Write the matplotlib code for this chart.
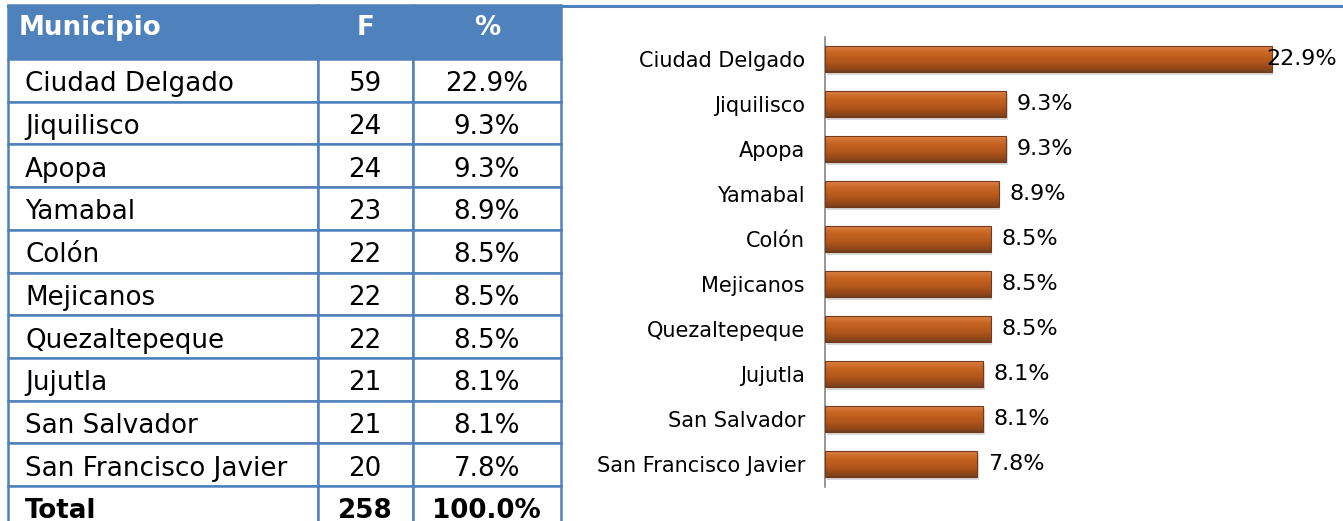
import numpy as np
import matplotlib
matplotlib.use("Agg")
import matplotlib.pyplot as plt
from matplotlib.colors import LinearSegmentedColormap
from matplotlib.lines import Line2D
from matplotlib.transforms import Affine2D

# Data
municipios = ["Ciudad Delgado", "Jiquilisco", "Apopa", "Yamabal", "Colón",
              "Mejicanos", "Quezaltepeque", "Jujutla", "San Salvador",
              "San Francisco Javier"]
frecuencia = [59, 24, 24, 23, 22, 22, 22, 21, 21, 20]
porcentaje = [22.9, 9.3, 9.3, 8.9, 8.5, 8.5, 8.5, 8.1, 8.1, 7.8]
total_f = 258
total_pct = 100.0
encabezados = ["Municipio", "F", "%"]

blue = "#4F81BD"
W, H = 1343, 521

fig = plt.figure(figsize=(W / 100, H / 100), dpi=100)
fig.patch.set_facecolor("white")

# ---- Table on the left ----
row_h_head, row_h = 54, 42.7
tab_h = row_h_head + 11 * row_h
tab_ax = fig.add_axes([8 / W, 1 - (5 + tab_h) / H, 553 / W, tab_h / H])
tab_ax.axis("off")

rows = [[m, str(f), f"{p:.1f}%"] for m, f, p in zip(municipios, frecuencia, porcentaje)]
rows.append(["Total", str(total_f), f"{total_pct:.1f}%"])

col_w = [309, 95, 148]
tbl = tab_ax.table(cellText=rows, colLabels=encabezados,
                   colWidths=[c / sum(col_w) for c in col_w],
                   cellLoc="center", bbox=[0, 0, 1, 1])
tbl.auto_set_font_size(False)

n_rows = len(rows)
for (r, c), cell in tbl.get_celld().items():
    cell.set_edgecolor(blue)
    cell.set_linewidth(1.8)
    cell.set_height(row_h_head if r == 0 else row_h)
    txt = cell.get_text()
    txt.set_fontsize(18.8)
    txt.set_color("black")
    # text sits a little low in the body rows, a little high in the header
    txt.set_transform(Affine2D().translate(0, 4 if r == 0 else -4))
    if c == 0:
        txt.set_horizontalalignment("left")
        cell.PAD = (11 if r == 0 else 17) / col_w[0]
    if r == 0:
        cell.set_facecolor(blue)
        txt.set_color("white")
        txt.set_fontweight("bold")
    elif r == n_rows:
        txt.set_fontweight("bold")

# thin blue rule along the top of the page
fig.add_artist(Line2D([8 / W, 1], [1 - 5.5 / H, 1 - 5.5 / H], color=blue, lw=2.2,
                      transform=fig.transFigure))

# ---- Bar chart on the right ----
ax = fig.add_axes([825 / W, (H - 486.5) / H, 512 / W, 450 / H])
y = np.arange(len(municipios))
bar_h = 0.58
xmax = 512 / 19.5

# soft drop shadow
ax.barh(y + 0.07, porcentaje, height=bar_h, left=0.08, color="black", alpha=0.15,
        zorder=1, linewidth=0)
bars = ax.barh(y, porcentaje, height=bar_h, color="#B85A1C", edgecolor="#74391A",
               linewidth=0.8, zorder=2)

cmap = LinearSegmentedColormap.from_list("bar", [
    (0.0, "#EDBB9A"), (0.08, "#D97A3C"), (0.3, "#C66422"),
    (0.6, "#B5571B"), (0.85, "#964918"), (1.0, "#734020")])
grad = np.linspace(0, 1, 64).reshape(-1, 1)
for yi, v, b in zip(y, porcentaje, bars):
    im = ax.imshow(grad, extent=(0, v, yi + bar_h / 2, yi - bar_h / 2), cmap=cmap,
                   aspect="auto", zorder=3, interpolation="bicubic")
    im.set_clip_path(b)
    b.set_zorder(4)
    b.set_facecolor("none")

for yi, v in zip(y, porcentaje):
    lab = f"{v:.1f}%"
    if v + 0.55 + 3.6 > xmax:
        ax.text(xmax, yi, lab, ha="right", va="center", fontsize=16, zorder=5)
    else:
        ax.text(v + 0.55, yi, lab, ha="left", va="center", fontsize=16, zorder=5)

ax.set_xlim(0, xmax)
ax.set_ylim(len(municipios) - 0.5, -0.5)
ax.set_yticks(y)
ax.set_yticklabels(municipios, fontsize=15)
ax.tick_params(axis="y", length=0, pad=14.4)
ax.set_xticks([])
for s in ["top", "right", "bottom"]:
    ax.spines[s].set_visible(False)
ax.spines["left"].set_color("#868686")
ax.spines["left"].set_linewidth(1.2)
ax.set_facecolor("none")

fig.savefig("out.png", dpi=100)
